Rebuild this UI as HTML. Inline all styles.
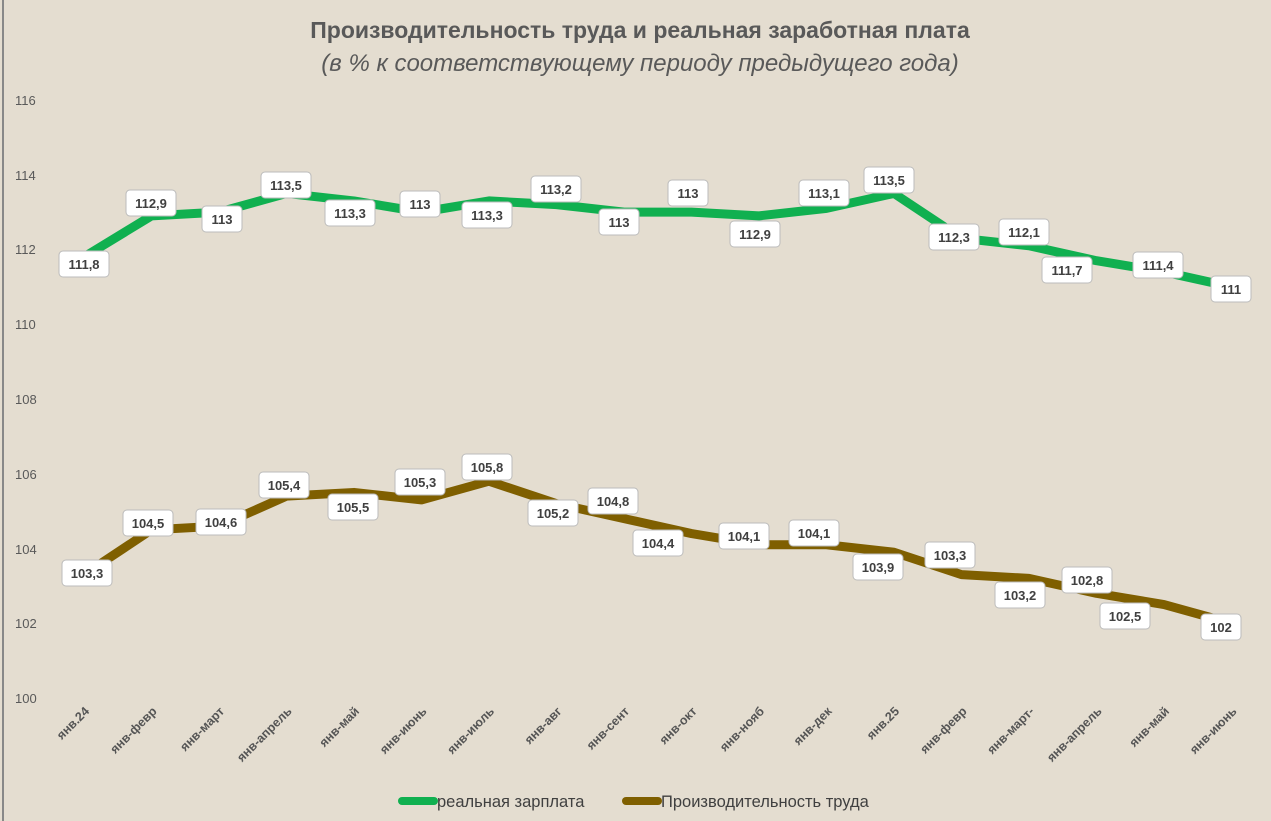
<!DOCTYPE html><html><head><meta charset="utf-8"><style>
body{margin:0;width:1271px;height:821px;overflow:hidden;background:#e4dccf;font-family:"Liberation Sans",sans-serif}
</style></head><body>
<svg width="1271" height="821" xmlns="http://www.w3.org/2000/svg" font-family="Liberation Sans, sans-serif" style="display:block">
<rect x="0" y="0" width="1271" height="821" fill="#e4ddd0"/>
<line x1="3" y1="0" x2="3" y2="821" stroke="#888" stroke-width="2"/>
<text x="640" y="38" text-anchor="middle" font-size="23" font-weight="bold" fill="#595959">Производительность труда и реальная заработная плата</text>
<text x="640" y="71" text-anchor="middle" font-size="24" font-style="italic" fill="#595959">(в % к соответствующему периоду предыдущего года)</text>
<g font-size="13" fill="#595959">
<text x="15" y="105">116</text><text x="15" y="180">114</text><text x="15" y="254">112</text><text x="15" y="329">110</text><text x="15" y="404">108</text><text x="15" y="479">106</text><text x="15" y="554">104</text><text x="15" y="628">102</text><text x="15" y="703">100</text>
</g>
<g id="lines" fill="none" stroke-width="9" stroke-linejoin="round"></g>
<g id="xl" font-size="12.5" font-weight="bold" fill="#555" text-anchor="end"></g>
<g id="lb" font-size="13" font-weight="bold" fill="#404040" text-anchor="middle"></g>
<g font-size="16.5" fill="#404040">
<line x1="402" y1="801" x2="434" y2="801" stroke="#10b050" stroke-width="8" stroke-linecap="round"/>
<text x="437" y="807">реальная зарплата</text>
<line x1="626" y1="801" x2="658" y2="801" stroke="#7f5f00" stroke-width="8" stroke-linecap="round"/>
<text x="661" y="807">Производительность труда</text>
</g>
</svg>
<script>
const ns="http://www.w3.org/2000/svg";
const w=[111.8,112.9,113,113.5,113.3,113,113.3,113.2,113,113,112.9,113.1,113.5,112.3,112.1,111.7,111.4,111];
const p=[103.3,104.5,104.6,105.4,105.5,105.3,105.8,105.2,104.8,104.4,104.1,104.1,103.9,103.3,103.2,102.8,102.5,102];
const X=i=>84+i*67.5, Y=v=>698-(v-100)*37.375;
const g=document.getElementById('lines');
[[w,'#10b050'],[p,'#7f5f00']].forEach(([d,c])=>{const pl=document.createElementNS(ns,'polyline');pl.setAttribute('points',d.map((v,i)=>X(i)+','+Y(v)).join(' '));pl.setAttribute('stroke',c);g.appendChild(pl);});
const names=['янв.24','янв-февр','янв-март','янв-апрель','янв-май','янв-июнь','янв-июль','янв-авг','янв-сент','янв-окт','янв-нояб','янв-дек','янв.25','янв-февр','янв-март-','янв-апрель','янв-май','янв-июнь'];
const xl=document.getElementById('xl');
names.forEach((n,i)=>{const t=document.createElementNS(ns,'text');const x=X(i)+6,y=712;t.setAttribute('x',x);t.setAttribute('y',y);t.setAttribute('transform',`rotate(-45 ${x} ${y})`);t.textContent=n;xl.appendChild(t);});
const L=[[111.8,84,264],[112.9,151,203],[113,222,219],[113.5,286,185],[113.3,350,213],[113,420,204],[113.3,487,215],[113.2,556,189],[113,619,222],[113,688,193],[112.9,755,234],[113.1,824,193],[113.5,889,180],[112.3,954,237],[112.1,1024,232],[111.7,1067,270],[111.4,1158,265],[111,1231,289],
[103.3,87,573],[104.5,148,523],[104.6,221,522],[105.4,284,485],[105.5,353,507],[105.3,420,482],[105.8,487,467],[105.2,553,513],[104.8,613,501],[104.4,658,543],[104.1,744,536],[104.1,814,533],[103.9,878,567],[103.3,950,555],[103.2,1020,595],[102.8,1087,580],[102.5,1125,616],[102,1221,627]];
const lb=document.getElementById('lb');
L.forEach(([v,x,y])=>{const s=String(v).replace('.',',');const wd=s.length>3?50:40;
const r=document.createElementNS(ns,'rect');r.setAttribute('x',x-wd/2);r.setAttribute('y',y-13);r.setAttribute('width',wd);r.setAttribute('height',26);r.setAttribute('rx',4);r.setAttribute('fill','#fff');r.setAttribute('stroke','#bbb');lb.appendChild(r);
const t=document.createElementNS(ns,'text');t.setAttribute('x',x);t.setAttribute('y',y+5);t.textContent=s;lb.appendChild(t);});
</script>
</body></html>
